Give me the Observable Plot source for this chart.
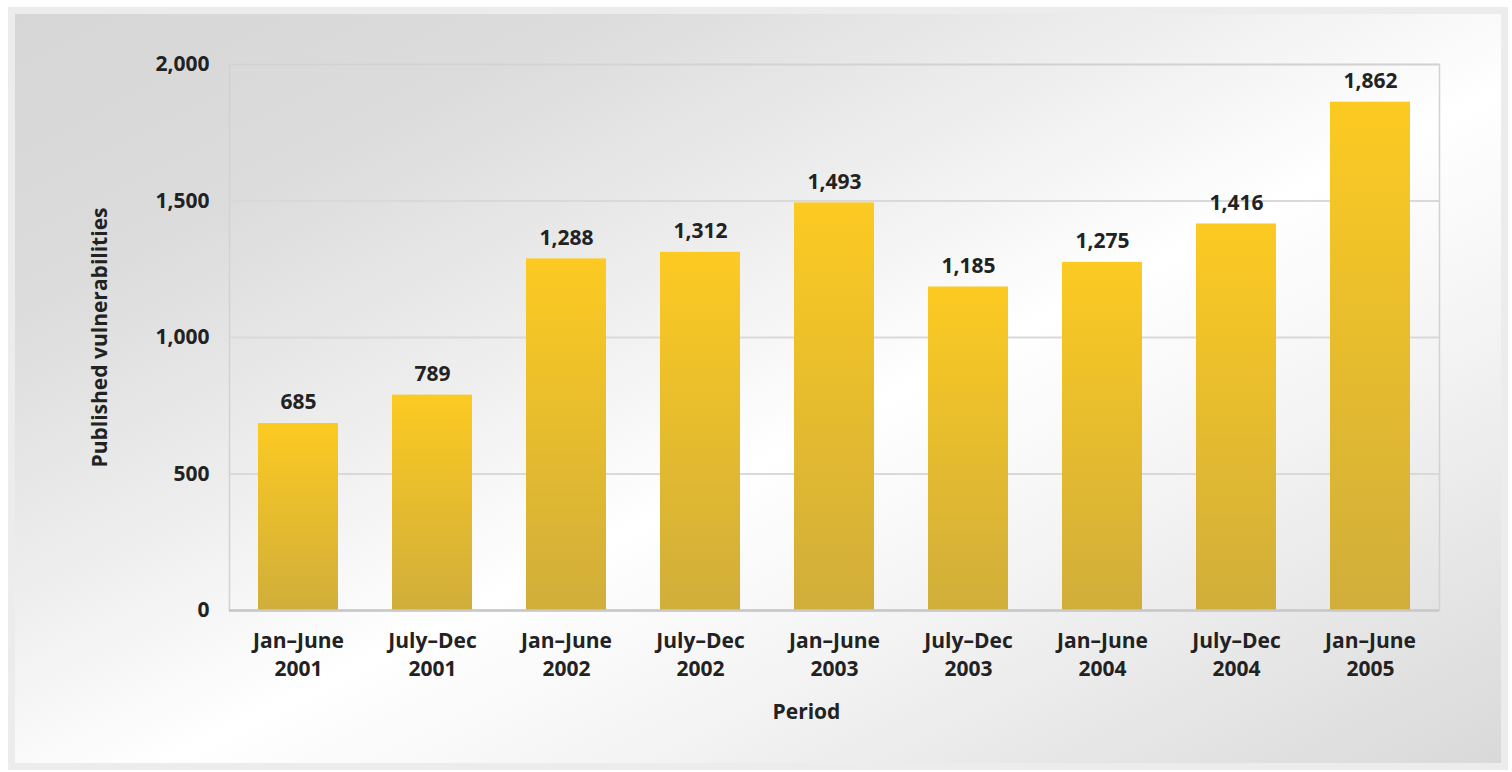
<!DOCTYPE html>
<html><head><meta charset="utf-8">
<script src="https://cdn.jsdelivr.net/npm/d3@7"></script>
<script src="https://cdn.jsdelivr.net/npm/@observablehq/plot@0.6"></script>
<style>
html,body{margin:0;padding:0;background:#fff;overflow:hidden;}
#panel{position:absolute;left:8px;top:7px;width:1500px;height:763px;box-sizing:border-box;border:7px solid #ececec;
background:linear-gradient(to bottom right,#d6d6d6 0%,#dcdcdc 20%,#efefef 40%,#ffffff 55%,#f4f4f4 70%,#d9d9d9 100%);}
#chart{position:absolute;left:0;top:0;}
</style></head><body><div id="panel"></div><div id="chart"></div>
<script>
const periods = ["Jan–June\n2001","July–Dec\n2001","Jan–June\n2002","July–Dec\n2002","Jan–June\n2003","July–Dec\n2003","Jan–June\n2004","July–Dec\n2004","Jan–June\n2005"];
const vulnerabilities = [685, 789, 1288, 1312, 1493, 1185, 1275, 1416, 1862];
const yTicks = [0, 500, 1000, 1500, 2000];
const yLabel = "Published vulnerabilities";
const xLabel = "Period";

const data = periods.map((p, i) => ({period: p, value: vulnerabilities[i]}));
const fmt = d3.format(",");

const defs = () => {
  const d = d3.create("svg:defs");
  const g = d.append("linearGradient").attr("id", "barGrad").attr("x1", 0).attr("y1", 0).attr("x2", 0).attr("y2", 1);
  g.append("stop").attr("offset", "0%").attr("stop-color", "#fcca22");
  g.append("stop").attr("offset", "100%").attr("stop-color", "#d0ae3a");
  return d.node();
};

const chart = Plot.plot({
  width: 1512, height: 772,
  marginLeft: 229, marginRight: 73, marginTop: 64, marginBottom: 162,
  style: {background: "transparent", fontFamily: "'Open Sans', sans-serif", fontWeight: 700, fontSize: "21px", color: "#222", overflow: "visible"},
  x: {domain: periods, paddingInner: 0.4, paddingOuter: 0.2, label: null},
  y: {domain: [0, 2000], ticks: yTicks, label: null},
  marks: [
    defs,
    Plot.gridY(yTicks, {stroke: "#d9d9d9", strokeOpacity: 1, strokeWidth: 2}),
    Plot.frame({stroke: "#d2d2d2", strokeWidth: 1.5}),
    Plot.barY(data, {x: "period", y: "value", fill: "url(#barGrad)"}),
    Plot.ruleY([0], {stroke: "#c8c8c8", strokeWidth: 2.5}),
    Plot.text(data, {x: "period", y: "value", text: d => fmt(d.value), dy: -21, lineAnchor: "middle", fill: "#222"}),
    Plot.axisY(yTicks, {tickSize: 0, tickPadding: 20, tickFormat: fmt, label: null, fill: "#222"}),
    Plot.axisX({tickSize: 0, tickPadding: 18, label: null, lineHeight: 1.33, fill: "#222"}),
    Plot.text([yLabel], {frameAnchor: "left", textAnchor: "middle", lineAnchor: "middle", rotate: -90, dx: -129, fill: "#222"}),
    Plot.text([xLabel], {frameAnchor: "bottom", textAnchor: "middle", lineAnchor: "middle", dx: -28, dy: 102, fill: "#222"})
  ]
});
document.getElementById("chart").appendChild(chart);
</script>
</body></html>
